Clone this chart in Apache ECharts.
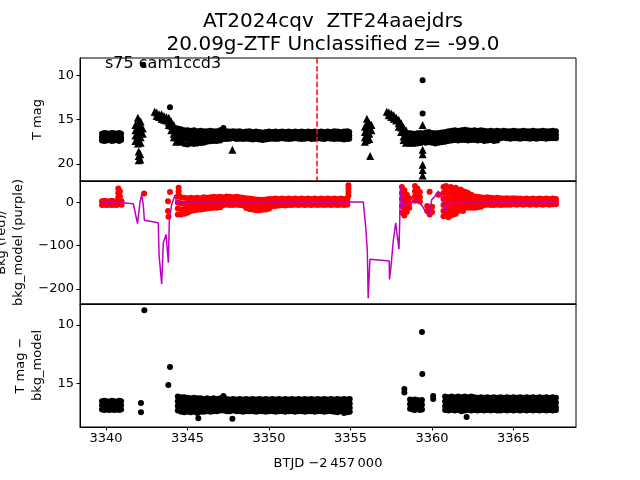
<!DOCTYPE html>
<html><head><meta charset="utf-8">
<script src="https://cdn.jsdelivr.net/npm/echarts@6/dist/echarts.min.js"></script>
<style>html,body{margin:0;padding:0;background:#fff}#c{width:640px;height:480px}</style>
</head><body><div id="c"></div>
<script>
// ---------- data ----------
const titleLine1 = 'AT2024cqv  ZTF24aaejdrs';
const titleLine2 = '20.09g-ZTF Unclassified z= -99.0';
const sectorLabel = 's75 cam1ccd3';
const xTicks = [3340, 3345, 3350, 3355, 3360, 3365];
const magTicks1 = [10, 15, 20];
const bkgTicks = [-200, -100, 0];
const magTicks3 = [10, 15];
const peakTime = 3352.92;

// panel 1: T mag detections (rows: time, mags...)
const tmagRows = [
 [3339.75,16.6,17.0,17.35],[3339.9,16.5,16.95,17.4],[3340.05,16.55,17.0,17.35],[3340.2,16.6,16.95,17.3],
 [3340.35,16.5,17.0,17.4],[3340.5,16.55,16.95,17.35],[3340.65,16.6,17.0,17.3],[3340.8,16.5,16.95,17.4],[3340.92,16.6,17.0,17.3],
 [3344.4,16.0,16.5,17.0,17.5],[3344.6,16.1,16.6,17.1,17.6],[3344.8,16.2,16.6,17.1,17.75],[3345.0,16.2,16.7,17.2,17.8],
 [3345.2,16.25,16.7,17.2,17.7],[3345.4,16.2,16.7,17.25,17.75],[3345.6,16.3,16.75,17.2,17.7],[3345.8,16.25,16.7,17.2,17.65],
 [3346.0,16.3,16.75,17.25,17.6],[3346.2,16.3,16.75,17.2,17.5],[3346.4,16.25,16.7,17.15,17.45],[3346.6,16.3,16.75,17.2,17.4],
 [3346.8,16.3,16.7,17.15,17.4],[3347.0,16.2,16.7,17.1,17.35],[3347.2,15.95,16.35,16.75,17.2],[3347.4,16.3,16.75,17.2],
 [3347.6,16.35,16.75,17.15],[3347.8,16.3,16.7,17.1],[3348.0,16.35,16.75,17.2],[3348.2,16.3,16.7,17.15],[3348.4,16.4,16.8,17.2],
 [3348.6,16.35,16.75,17.15],[3348.8,16.3,16.7,17.2],[3349.0,16.4,16.8,17.25],[3349.2,16.35,16.8,17.2],[3349.4,16.4,16.8,17.25],
 [3349.6,16.45,16.85,17.3],[3349.8,16.4,16.8,17.25],[3350.0,16.35,16.75,17.2],[3350.2,16.4,16.8,17.15],[3350.4,16.35,16.75,17.2],
 [3350.6,16.4,16.8,17.15],[3350.8,16.35,16.75,17.1],[3351.0,16.4,16.8,17.15],[3351.2,16.35,16.75,17.2],[3351.4,16.4,16.8,17.15],
 [3351.6,16.35,16.75,17.1],[3351.8,16.4,16.8,17.15],[3352.0,16.35,16.75,17.2],[3352.2,16.4,16.8,17.15],[3352.4,16.35,16.75,17.1],
 [3352.6,16.4,16.8,17.2],[3352.8,16.35,16.75,17.15],[3353.0,16.4,16.8,17.1],[3353.2,16.35,16.75,17.15],[3353.4,16.4,16.8,17.2],
 [3353.6,16.35,16.75,17.1],[3353.8,16.4,16.8,17.15],[3354.0,16.3,16.75,17.2],[3354.2,16.35,16.8,17.15],[3354.4,16.4,16.75,17.2],
 [3354.6,16.35,16.8,17.25],[3354.8,16.3,16.75,17.2],[3354.92,16.4,16.8,17.15],
 [3358.5,16.5,16.9,17.3,17.7],[3358.7,16.55,16.95,17.35,17.75],[3358.9,16.6,17.0,17.4,17.75],[3359.1,16.55,16.95,17.35,17.7],
 [3359.3,16.5,16.9,17.3,17.65],[3359.6,16.45,16.85,17.25,17.6],[3359.8,16.4,16.8,17.2,17.55],[3360.0,16.5,16.9,17.3,17.6],
 [3360.2,16.55,16.95,17.35,17.7],[3360.4,16.5,16.9,17.3,17.6],[3360.6,16.45,16.85,17.25,17.55],[3360.8,16.4,16.8,17.2,17.5],
 [3361.0,16.3,16.7,17.1,17.4],[3361.2,16.25,16.65,17.05,17.35],[3361.4,16.2,16.6,17.0,17.3],[3361.6,16.25,16.65,17.05,17.35],
 [3361.8,16.2,16.6,17.0,17.3],[3362.0,16.15,16.55,16.95,17.3],[3362.2,16.2,16.6,17.0,17.35],[3362.4,16.25,16.65,17.05,17.3],
 [3362.6,16.2,16.6,17.0,17.3],[3362.8,16.25,16.65,17.05,17.35],[3363.0,16.2,16.6,17.0,17.3],[3363.2,16.25,16.65,17.05,17.4],
 [3363.4,16.3,16.7,17.1,17.35],[3363.6,16.25,16.65,17.05,17.3],[3363.8,16.3,16.7,17.1,17.4],[3364.0,16.25,16.65,17.05,17.35],
 [3364.2,16.3,16.7,17.1],[3364.4,16.25,16.65,17.05],[3364.6,16.3,16.7,17.1],[3364.8,16.3,16.7,17.15],[3365.0,16.25,16.65,17.1],
 [3365.2,16.3,16.7,17.1],[3365.4,16.3,16.7,17.15],[3365.6,16.25,16.65,17.1],[3365.8,16.3,16.7,17.1],[3366.0,16.3,16.7,17.15],
 [3366.2,16.25,16.65,17.1],[3366.4,16.3,16.7,17.15],[3366.6,16.3,16.7,17.1],[3366.8,16.25,16.65,17.1],[3367.0,16.3,16.7,17.15],
 [3367.2,16.3,16.7,17.1],[3367.4,16.25,16.65,17.1],[3367.6,16.3,16.7,17.1]
];
const tmagSingles = [[3342.28,8.8],[3343.92,13.6],[3359.42,10.56],[3359.42,14.3]];
// panel 1: upper limits (triangles)
const limitRows = [
 [3341.8,15.6,16.2,16.8,17.4],[3341.95,14.8,15.4,16.0,16.6,17.2,17.7],[3342.12,15.2,15.8,16.4,17.0,17.6],[3342.25,16.0,16.6],
 [3342.0,18.6,19.1,19.6],[3342.1,18.9,19.5],
 [3342.98,14.1],[3343.1,14.2,14.6],[3343.25,14.4,14.7],[3343.4,14.4,14.9],[3343.55,14.6,15.0],[3343.7,14.7,15.1],
 [3343.85,14.8,15.3,15.6],[3344.0,15.2,15.7,16.2],[3344.15,15.6,16.1,16.6,17.0],[3344.3,16.0,16.5,17.0,17.5],
 [3347.75,18.4],
 [3355.88,15.8,16.4,17.0,17.5],[3356.0,14.9,15.5,16.1,16.7,17.3],[3356.15,15.4,16.0,16.6,17.2],[3356.28,15.6,16.2],[3356.2,19.1],
 [3357.22,14.1],[3357.35,14.2,14.5],[3357.5,14.3,14.7],[3357.65,14.5,14.9],[3357.8,14.8,15.1],[3357.95,15.0,15.4,15.8],
 [3358.1,15.4,15.9,16.4],[3358.25,15.9,16.4,16.9,17.3],[3358.4,16.2,16.7,17.2,17.6],
 [3359.42,15.6,18.4,18.9,20.1,20.7,21.3]
];

// panel 2: background (red) and background model (purple)
const bkgRows = [
 [3339.75,3,-6],[3339.9,4,-5],[3340.05,2,-6],[3340.2,3,-5],[3340.35,4,-6],[3340.5,2,-5],[3340.65,3,-6],[3340.75,32,22,12,2],[3340.85,26,14,-4],[3340.95,3,-5],
 [3342.33,21],[3343.8,3,-20],[3343.83,-33],[3343.92,24],
 [3344.45,34,26,18],[3344.4,14,0,-14,-28],[3344.6,12,-2,-16,-28],[3344.8,11,-3,-15,-26],[3345.0,10,-2,-14,-24],[3345.2,11,-1,-12,-20],
 [3345.4,10,0,-10,-18],[3345.6,11,-1,-11,-17],[3345.8,10,0,-9,-16],[3346.0,12,1,-8,-15],[3346.2,11,2,-7,-14],[3346.4,12,2,-6,-13],
 [3346.6,13,3,-6,-12],[3346.8,12,2,-5,-12],[3347.0,13,3,-5,-11],[3347.2,12,2,-6],[3347.4,14,4,-5],[3347.6,13,3,-6],[3347.8,12,2,-6],
 [3348.0,13,3,-5],[3348.2,12,2,-6],[3348.4,11,1,-7],[3348.6,10,0,-8,-13],[3348.8,9,-1,-9,-15],[3349.0,8,-2,-10,-16],
 [3349.2,7,-3,-11,-18],[3349.4,6,-4,-12,-18],[3349.6,6,-4,-12,-17],[3349.8,7,-3,-11,-16],[3350.0,8,-2,-10,-14],[3350.2,8,-1,-9],
 [3350.4,9,0,-8],[3350.6,8,0,-7],[3350.8,9,1,-6],[3351.0,8,0,-7],[3351.2,9,1,-6],[3351.4,8,0,-6],[3351.6,9,1,-5],[3351.8,8,0,-6],
 [3352.0,9,1,-5],[3352.2,8,0,-6],[3352.4,9,1,-5],[3352.6,8,0,-6],[3352.8,9,1,-5],[3353.0,8,0,-6],[3353.2,9,1,-5],[3353.4,8,0,-6],
 [3353.6,9,1,-5],[3353.8,8,0,-6],[3354.0,9,1,-5],[3354.2,8,0,-6],[3354.4,9,1,-5],[3354.6,8,0,-6],[3354.8,9,1,-5],[3354.87,40,32,24,16],
 [3358.15,36,22,8,-8,-24],[3358.3,28,14,0,-14,-30],[3358.45,18,4,-10,-22],[3358.6,10,-2,-12],[3358.95,38,26,14,4],[3359.1,32,20,8],
 [3359.25,24,12,2],[3359.7,-8,-20],[3359.85,25,-14,-28],[3360.0,-10,-22],[3360.4,18],
 [3360.7,36,22,8,-6,-20,-32],[3360.85,38,24,10,-4,-18,-30],[3361.0,34,20,6,-8,-22,-34],[3361.15,36,22,8,-6,-20,-30],
 [3361.3,30,18,6,-6,-18,-28],[3361.45,34,20,8,-4,-16,-26],[3361.6,28,16,4,-8,-20],[3361.75,30,18,6,-6,-18],
 [3361.9,26,14,2,-10,-20],[3362.05,24,12,0,-10],[3362.2,22,10,-2,-12],[3362.4,18,6,-4,-12],[3362.6,14,4,-6,-12],
 [3362.8,13,3,-6,-11],[3363.0,12,2,-6,-10],[3363.2,11,2,-6],[3363.4,12,3,-5],[3363.6,11,2,-6],[3363.8,10,1,-6],
 [3364.0,11,2,-5],[3364.2,10,1,-6],[3364.4,9,1,-5],[3364.6,10,2,-5],[3364.8,9,1,-5],[3365.0,10,2,-4],[3365.2,9,1,-5],
 [3365.4,9,1,-4],[3365.6,8,1,-5],[3365.8,9,1,-4],[3366.0,8,1,-5],[3366.2,9,1,-4],[3366.4,8,0,-5],[3366.6,9,1,-4],
 [3366.8,8,0,-5],[3367.0,9,1,-4],[3367.2,8,0,-5],[3367.4,9,1,-4],[3367.6,8,0,-4]
];
const bkgModel = [
 [3339.73,0],[3340.85,0],[3341.67,-3],[3341.77,-4],[3341.93,-49],[3342.08,0],[3342.18,18],[3342.28,-5],[3342.35,-41],
 [3343.2,-47],[3343.25,-121],[3343.3,-124],[3343.41,-189],[3343.51,-93],[3343.68,-74],[3343.82,-139],[3343.88,-43],
 [3344.02,-5],[3344.23,17],[3344.33,-1],[3346.0,-1],[3350.0,-1],[3354.9,1],[3355.78,1],[3355.95,-66],[3356.03,-116],
 [3356.08,-221],[3356.19,-131],[3357.37,-135],[3357.39,-178],[3357.48,-147],[3357.62,-89],[3357.77,-47],[3357.83,-66],
 [3357.97,-108],[3358.07,38],[3358.2,-12],[3358.3,-4],[3358.85,1],[3359.1,6],[3359.4,-8],[3359.6,-22],[3359.86,-28],
 [3359.97,6],[3360.15,13],[3360.38,26],[3360.58,13],[3360.7,-5],[3360.8,-20],[3360.9,-8],[3361.1,-2],[3367.64,0]
];

// panel 3: T mag - bkg_model
const diffRows = [
 [3339.75,16.55,16.9,17.25],[3339.9,16.5,16.9,17.3],[3340.05,16.55,16.9,17.25],[3340.2,16.6,16.95,17.3],[3340.35,16.5,16.9,17.25],
 [3340.5,16.55,16.9,17.3],[3340.65,16.6,16.95,17.25],[3340.8,16.5,16.9,17.3],[3340.92,16.55,16.9,17.25],
 [3344.4,16.15,16.55,16.95,17.35],[3344.6,16.2,16.6,17.0,17.45],[3344.8,16.2,16.6,17.05,17.5],[3345.0,16.25,16.65,17.05,17.45],
 [3345.2,16.3,16.7,17.1,17.5],[3345.4,16.25,16.65,17.05,17.45],[3345.6,16.3,16.7,17.1,17.55],[3345.8,16.3,16.7,17.1,17.45],
 [3346.0,16.35,16.75,17.1,17.45],[3346.2,16.3,16.7,17.05,17.4],[3346.4,16.35,16.75,17.1,17.45],[3346.6,16.3,16.7,17.1,17.4],
 [3346.8,16.35,16.75,17.1,17.4],[3347.0,16.3,16.7,17.05,17.35],[3347.2,16.1,16.5,16.9,17.35],[3347.4,16.35,16.75,17.1,17.4],
 [3347.6,16.4,16.8,17.15,17.4],[3347.8,16.35,16.75,17.1,17.35],[3348.0,16.4,16.8,17.15,17.4],[3348.2,16.35,16.75,17.1,17.4],
 [3348.4,16.4,16.8,17.15,17.45],[3348.6,16.35,16.75,17.1,17.4],[3348.8,16.4,16.8,17.15,17.4],[3349.0,16.35,16.75,17.1,17.4],
 [3349.2,16.4,16.8,17.15,17.45],[3349.4,16.35,16.75,17.1,17.4],[3349.6,16.4,16.8,17.15,17.4],[3349.8,16.35,16.75,17.1,17.45],
 [3350.0,16.4,16.8,17.15,17.4],[3350.2,16.35,16.75,17.1,17.4],[3350.4,16.4,16.8,17.15,17.45],[3350.6,16.35,16.75,17.1,17.4],
 [3350.8,16.4,16.8,17.15,17.4],[3351.0,16.35,16.75,17.1,17.45],[3351.2,16.4,16.8,17.15,17.4],[3351.4,16.35,16.75,17.1,17.4],
 [3351.6,16.4,16.8,17.15,17.45],[3351.8,16.35,16.75,17.1,17.4],[3352.0,16.4,16.8,17.15,17.4],[3352.2,16.35,16.75,17.1,17.45],
 [3352.4,16.4,16.8,17.15,17.4],[3352.6,16.35,16.75,17.1,17.4],[3352.8,16.4,16.8,17.15,17.45],[3353.0,16.35,16.75,17.1,17.4],
 [3353.2,16.4,16.8,17.15,17.4],[3353.4,16.35,16.75,17.1,17.45],[3353.6,16.4,16.8,17.15,17.4],[3353.8,16.35,16.75,17.1,17.4],
 [3354.0,16.4,16.8,17.15,17.45],[3354.2,16.35,16.75,17.1,17.5],[3354.4,16.4,16.8,17.15,17.4],[3354.6,16.35,16.75,17.1,17.55],
 [3354.8,16.4,16.8,17.15,17.5],[3354.95,16.35,16.75,17.1,17.45],
 [3358.65,16.4,16.8,17.2],[3358.8,16.45,16.85,17.25],[3358.95,16.4,16.8,17.3],[3359.1,16.45,16.85,17.2],[3359.25,16.5,16.9,17.3],[3359.38,16.45,16.85,17.25],
 [3360.8,16.15,16.55,16.95,17.3],[3361.0,16.2,16.6,17.0,17.35],[3361.2,16.15,16.55,16.95,17.3],[3361.4,16.2,16.6,17.0,17.35],
 [3361.6,16.15,16.55,16.95,17.3],[3361.8,16.2,16.6,17.0,17.4],[3362.0,16.15,16.55,16.95,17.35],[3362.2,16.2,16.6,17.0,17.3],
 [3362.4,16.15,16.55,16.95,17.35],[3362.6,16.2,16.6,17.0,17.3],[3362.8,16.25,16.65,17.05,17.35],[3363.0,16.2,16.6,17.0,17.3],
 [3363.2,16.25,16.65,17.05,17.35],[3363.4,16.2,16.6,17.0,17.3],[3363.6,16.25,16.65,17.05,17.35],[3363.8,16.2,16.6,17.0,17.3],
 [3364.0,16.25,16.65,17.05,17.35],[3364.2,16.2,16.6,17.0,17.35],[3364.4,16.25,16.65,17.05,17.3],[3364.6,16.2,16.6,17.0,17.35],
 [3364.8,16.25,16.65,17.05,17.3],[3365.0,16.2,16.6,17.0,17.35],[3365.2,16.25,16.65,17.05,17.3],[3365.4,16.2,16.6,17.0,17.35],
 [3365.6,16.25,16.65,17.05,17.3],[3365.8,16.2,16.6,17.0,17.35],[3366.0,16.25,16.65,17.05,17.3],[3366.2,16.2,16.6,17.0,17.35],
 [3366.4,16.25,16.65,17.05,17.3],[3366.6,16.2,16.6,17.0,17.35],[3366.8,16.25,16.65,17.05,17.3],[3367.0,16.2,16.6,17.0,17.35],
 [3367.2,16.25,16.65,17.05,17.3],[3367.4,16.2,16.6,17.0,17.35],[3367.6,16.25,16.65,17.05,17.3]
];
const diffSingles = [[3342.35,8.74],[3342.14,16.7],[3342.14,17.5],[3343.92,13.6],[3343.82,15.15],[3345.66,18.0],[3347.75,18.05],
 [3358.3,15.5],[3358.3,15.8],[3359.38,10.6],[3359.4,14.2],[3360.07,16.1],[3360.07,16.35],[3362.12,17.9]];

// ---------- build ----------
const expand = rows => rows.flatMap(r => r.slice(1).map(v => [r[0], v]));
const FONT = 'DejaVu Sans';
const G = [{top:58,h:123},{top:181,h:123},{top:304,h:123}];
const xMin = 3338.4, xMax = 3368.83;
const plain = v => String(v);
const ranges = [[8.04,21.93,true,magTicks1,'T mag',33],[-234.6,49.6,false,bkgTicks,'Bkg (red)/\nbkg_model (purple)',31],[8.2,18.76,true,magTicks3,'T mag \u2212\nbkg_model',31]];

const chart = echarts.init(document.getElementById('c'), null, {renderer:'canvas'});
const option = {
  animation:false,
  backgroundColor:'#fff',
  title:{text:titleLine1+'\n'+titleLine2,left:328,top:5,textAlign:'center',
    textStyle:{fontFamily:FONT,fontSize:20,fontWeight:'normal',color:'#000',lineHeight:23}},
  graphic:[{type:'text',left:105,top:56,style:{text:sectorLabel,font:'16px "DejaVu Sans"',fill:'#000'}}],
  grid:G.map(g=>({left:80,width:496,top:g.top,height:g.h,show:true,borderColor:'#000',borderWidth:1,backgroundColor:'transparent',containLabel:false,outerBoundsMode:'none'})),
  xAxis:G.map((g,i)=>({gridIndex:i,type:'value',min:xMin,max:xMax,
    axisLine:{show:true,onZero:false,lineStyle:{color:'#000',width:1}},
    axisTick:{show:i===2,length:3.5,lineStyle:{color:'#000'},customValues:xTicks},
    axisLabel:{show:i===2,color:'#000',fontFamily:FONT,fontSize:13,margin:5,customValues:xTicks,formatter:plain},
    splitLine:{show:false},
    name:i===2?'BTJD \u22122\u2009457\u2009000':'',nameLocation:'middle',nameGap:30,
    nameTextStyle:{color:'#000',fontFamily:FONT,fontSize:13}})),
  yAxis:ranges.map((r,i)=>({gridIndex:i,type:'value',min:r[0],max:r[1],inverse:r[2],
    axisLine:{show:true,onZero:false,lineStyle:{color:'#000',width:1}},
    axisTick:{show:true,length:3.5,lineStyle:{color:'#000'},customValues:r[3]},
    axisLabel:{color:'#000',fontFamily:FONT,fontSize:13,margin:6,customValues:r[3],formatter:v=>String(v).replace('-','\u2212')},
    splitLine:{show:false},
    name:r[4],nameLocation:'middle',nameRotate:90,nameGap:r[5],
    nameTextStyle:{color:'#000',fontFamily:FONT,fontSize:13,lineHeight:17}})),
  series:[
    {type:'scatter',xAxisIndex:0,yAxisIndex:0,data:expand(limitRows),symbol:'triangle',symbolSize:8,itemStyle:{color:'#000',opacity:1},silent:true},
    {type:'scatter',xAxisIndex:0,yAxisIndex:0,data:expand(tmagRows).concat(tmagSingles),symbol:'circle',symbolSize:6,itemStyle:{color:'#000',opacity:1},silent:true,
      markLine:{silent:true,symbol:'none',label:{show:false},lineStyle:{color:'#ff0000',width:1.5,type:[5.5,2.4]},data:[{xAxis:peakTime}]}},
    {type:'scatter',xAxisIndex:1,yAxisIndex:1,data:expand(bkgRows),symbol:'circle',symbolSize:6,itemStyle:{color:'#ff0000',opacity:1},silent:true},
    {type:'line',xAxisIndex:1,yAxisIndex:1,data:bkgModel,showSymbol:false,symbol:'none',lineStyle:{color:'#bf00bf',width:1.5},silent:true},
    {type:'scatter',xAxisIndex:2,yAxisIndex:2,data:expand(diffRows).concat(diffSingles),symbol:'circle',symbolSize:6,itemStyle:{color:'#000',opacity:1},silent:true}
  ]
};
chart.setOption(option);
</script></body></html>
